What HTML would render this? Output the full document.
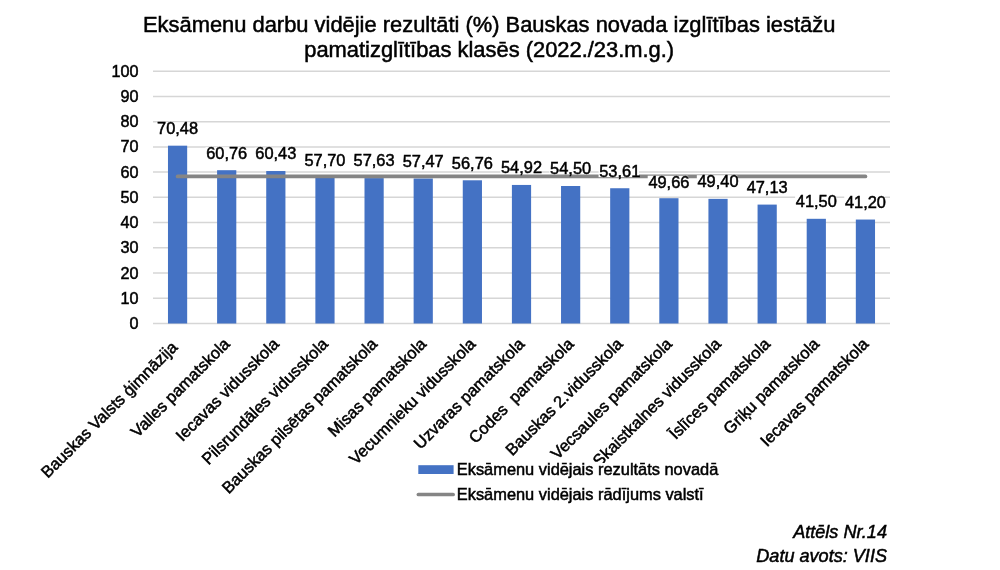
<!DOCTYPE html>
<html lang="lv"><head><meta charset="utf-8"><title>Eksāmenu darbu vidējie rezultāti</title>
<style>
html,body{margin:0;padding:0;background:#fff;}
body{width:1000px;height:570px;overflow:hidden;font-family:"Liberation Sans",Arial,sans-serif;}
svg{display:block}
text{font-family:"Liberation Sans",Arial,sans-serif;fill:#000;stroke:#000;stroke-width:0.5px}
.t{font-size:21.9px}
.l{font-size:16.4px}

.n{font-size:16.2px}
.i{font-size:18.1px;font-style:italic}
</style></head><body>
<svg width="1000" height="570" viewBox="0 0 1000 570">
<rect width="1000" height="570" fill="#fff"/>

<text class="t" x="489.2" y="31.8" text-anchor="middle">Eksāmenu darbu vidējie rezultāti (%) Bauskas novada izglītības iestāžu</text>
<text class="t" x="489.2" y="56.5" text-anchor="middle">pamatizglītības klasēs (2022./23.m.g.)</text>
<line x1="153.0" x2="890.0" y1="323.50" y2="323.50" stroke="#d6d6d6" stroke-width="1.5"/>
<text class="n" x="138.5" y="329.00" text-anchor="end">0</text>
<line x1="153.0" x2="890.0" y1="298.27" y2="298.27" stroke="#d6d6d6" stroke-width="1.5"/>
<text class="n" x="138.5" y="303.77" text-anchor="end">10</text>
<line x1="153.0" x2="890.0" y1="273.04" y2="273.04" stroke="#d6d6d6" stroke-width="1.5"/>
<text class="n" x="138.5" y="278.54" text-anchor="end">20</text>
<line x1="153.0" x2="890.0" y1="247.81" y2="247.81" stroke="#d6d6d6" stroke-width="1.5"/>
<text class="n" x="138.5" y="253.31" text-anchor="end">30</text>
<line x1="153.0" x2="890.0" y1="222.58" y2="222.58" stroke="#d6d6d6" stroke-width="1.5"/>
<text class="n" x="138.5" y="228.08" text-anchor="end">40</text>
<line x1="153.0" x2="890.0" y1="197.35" y2="197.35" stroke="#d6d6d6" stroke-width="1.5"/>
<text class="n" x="138.5" y="202.85" text-anchor="end">50</text>
<line x1="153.0" x2="890.0" y1="172.12" y2="172.12" stroke="#d6d6d6" stroke-width="1.5"/>
<text class="n" x="138.5" y="177.62" text-anchor="end">60</text>
<line x1="153.0" x2="890.0" y1="146.89" y2="146.89" stroke="#d6d6d6" stroke-width="1.5"/>
<text class="n" x="138.5" y="152.39" text-anchor="end">70</text>
<line x1="153.0" x2="890.0" y1="121.66" y2="121.66" stroke="#d6d6d6" stroke-width="1.5"/>
<text class="n" x="138.5" y="127.16" text-anchor="end">80</text>
<line x1="153.0" x2="890.0" y1="96.43" y2="96.43" stroke="#d6d6d6" stroke-width="1.5"/>
<text class="n" x="138.5" y="101.93" text-anchor="end">90</text>
<line x1="153.0" x2="890.0" y1="71.20" y2="71.20" stroke="#d6d6d6" stroke-width="1.5"/>
<text class="n" x="138.5" y="76.70" text-anchor="end">100</text>
<rect x="167.97" y="145.68" width="19.20" height="177.82" fill="#4472c4"/>
<rect x="217.10" y="170.20" width="19.20" height="153.30" fill="#4472c4"/>
<rect x="266.23" y="171.04" width="19.20" height="152.46" fill="#4472c4"/>
<rect x="315.37" y="177.92" width="19.20" height="145.58" fill="#4472c4"/>
<rect x="364.50" y="178.10" width="19.20" height="145.40" fill="#4472c4"/>
<rect x="413.63" y="178.50" width="19.20" height="145.00" fill="#4472c4"/>
<rect x="462.77" y="180.29" width="19.20" height="143.21" fill="#4472c4"/>
<rect x="511.90" y="184.94" width="19.20" height="138.56" fill="#4472c4"/>
<rect x="561.03" y="186.00" width="19.20" height="137.50" fill="#4472c4"/>
<rect x="610.17" y="188.24" width="19.20" height="135.26" fill="#4472c4"/>
<rect x="659.30" y="198.21" width="19.20" height="125.29" fill="#4472c4"/>
<rect x="708.43" y="198.86" width="19.20" height="124.64" fill="#4472c4"/>
<rect x="757.57" y="204.59" width="19.20" height="118.91" fill="#4472c4"/>
<rect x="806.70" y="218.80" width="19.20" height="104.70" fill="#4472c4"/>
<rect x="855.83" y="219.55" width="19.20" height="103.95" fill="#4472c4"/>
<line x1="177.57" x2="865.43" y1="176.41" y2="176.41" stroke="#858585" stroke-width="3.7" stroke-linecap="round"/>
<rect x="156.37" y="122.38" width="40.4" height="11.9" fill="#fff"/>
<text class="l" x="177.57" y="134.18" text-anchor="middle">70,48</text>
<rect x="205.50" y="147.20" width="40.4" height="11.9" fill="#fff"/>
<text class="l" x="226.70" y="159.00" text-anchor="middle">60,76</text>
<rect x="254.63" y="147.64" width="40.4" height="11.9" fill="#fff"/>
<text class="l" x="275.83" y="159.44" text-anchor="middle">60,43</text>
<rect x="303.77" y="153.92" width="40.4" height="11.9" fill="#fff"/>
<text class="l" x="324.97" y="165.72" text-anchor="middle">57,70</text>
<rect x="352.90" y="154.10" width="40.4" height="11.9" fill="#fff"/>
<text class="l" x="374.10" y="165.90" text-anchor="middle">57,63</text>
<rect x="402.03" y="155.20" width="40.4" height="11.9" fill="#fff"/>
<text class="l" x="423.23" y="167.00" text-anchor="middle">57,47</text>
<rect x="451.17" y="156.99" width="40.4" height="11.9" fill="#fff"/>
<text class="l" x="472.37" y="168.79" text-anchor="middle">56,76</text>
<rect x="500.30" y="160.94" width="40.4" height="11.9" fill="#fff"/>
<text class="l" x="521.50" y="172.74" text-anchor="middle">54,92</text>
<rect x="549.43" y="162.00" width="40.4" height="11.9" fill="#fff"/>
<text class="l" x="570.63" y="173.80" text-anchor="middle">54,50</text>
<rect x="598.57" y="165.24" width="40.4" height="11.9" fill="#fff"/>
<text class="l" x="619.77" y="177.04" text-anchor="middle">53,61</text>
<rect x="647.70" y="175.71" width="40.4" height="11.9" fill="#fff"/>
<text class="l" x="668.90" y="187.51" text-anchor="middle">49,66</text>
<rect x="696.83" y="175.16" width="40.4" height="11.9" fill="#fff"/>
<text class="l" x="718.03" y="186.96" text-anchor="middle">49,40</text>
<rect x="745.97" y="180.99" width="40.4" height="11.9" fill="#fff"/>
<text class="l" x="767.17" y="192.79" text-anchor="middle">47,13</text>
<rect x="795.10" y="195.50" width="40.4" height="11.9" fill="#fff"/>
<text class="l" x="816.30" y="207.30" text-anchor="middle">41,50</text>
<rect x="844.23" y="195.95" width="40.4" height="11.9" fill="#fff"/>
<text class="l" x="865.43" y="207.75" text-anchor="middle">41,20</text>
<text class="l" transform="translate(178.35,348.22) rotate(-45)" text-anchor="end" xml:space="preserve" style="white-space:pre">Bauskas Valsts ģimnāzija</text>
<text class="l" transform="translate(230.70,345.00) rotate(-45)" text-anchor="end" xml:space="preserve" style="white-space:pre">Valles pamatskola</text>
<text class="l" transform="translate(279.83,345.00) rotate(-45)" text-anchor="end" xml:space="preserve" style="white-space:pre">Iecavas vidusskola</text>
<text class="l" transform="translate(328.97,345.00) rotate(-45)" text-anchor="end" xml:space="preserve" style="white-space:pre">Pilsrundāles vidusskola</text>
<text class="l" transform="translate(378.10,345.00) rotate(-45)" text-anchor="end" xml:space="preserve" style="white-space:pre">Bauskas pilsētas pamatskola</text>
<text class="l" transform="translate(427.23,345.00) rotate(-45)" text-anchor="end" xml:space="preserve" style="white-space:pre">Misas pamatskola</text>
<text class="l" transform="translate(476.37,345.00) rotate(-45)" text-anchor="end" xml:space="preserve" style="white-space:pre">Vecumnieku vidusskola</text>
<text class="l" transform="translate(525.50,345.00) rotate(-45)" text-anchor="end" xml:space="preserve" style="white-space:pre">Uzvaras pamatskola</text>
<text class="l" transform="translate(574.63,345.00) rotate(-45)" text-anchor="end" xml:space="preserve" style="white-space:pre">Codes  pamatskola</text>
<text class="l" transform="translate(623.77,345.00) rotate(-45)" text-anchor="end" xml:space="preserve" style="white-space:pre">Bauskas 2.vidusskola</text>
<text class="l" transform="translate(672.90,345.00) rotate(-45)" text-anchor="end" xml:space="preserve" style="white-space:pre">Vecsaules pamatskola</text>
<text class="l" transform="translate(722.03,345.00) rotate(-45)" text-anchor="end" xml:space="preserve" style="white-space:pre">Skaistkalnes vidusskola</text>
<text class="l" transform="translate(771.17,345.00) rotate(-45)" text-anchor="end" xml:space="preserve" style="white-space:pre">Īslīces pamatskola</text>
<text class="l" transform="translate(820.30,345.00) rotate(-45)" text-anchor="end" xml:space="preserve" style="white-space:pre">Griķu pamatskola</text>
<text class="l" transform="translate(869.43,345.00) rotate(-45)" text-anchor="end" xml:space="preserve" style="white-space:pre">Iecavas pamatskola</text>
<rect x="418.3" y="465.2" width="35.3" height="8.8" fill="#4472c4"/>
<rect x="456" y="463" width="264" height="12" fill="#fff"/>
<text class="l" x="456.8" y="474.6">Eksāmenu vidējais rezultāts novadā</text>
<line x1="418.4" x2="453.1" y1="494.5" y2="494.5" stroke="#858585" stroke-width="3.7" stroke-linecap="round"/>
<text class="l" x="456.8" y="499.5">Eksāmenu vidējais rādījums valstī</text>
<text class="i" x="887" y="537.7" text-anchor="end">Attēls Nr.14</text>
<text class="i" x="887" y="562.4" text-anchor="end">Datu avots: VIIS</text>
</svg></body></html>
